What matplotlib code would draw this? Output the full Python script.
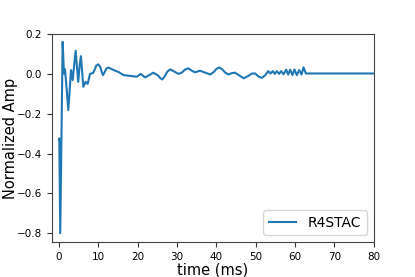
import numpy as np
import matplotlib
matplotlib.use('Agg')
import matplotlib.pyplot as plt

# values
time_ms = [0.0, 0.08, 0.33, 0.94, 1.27, 1.53, 1.9, 2.37, 2.7, 3.06, 3.49, 3.8, 4.25, 4.6,
           4.9, 5.3, 5.6, 6.2, 6.8, 7.3, 7.9, 8.7, 9.1, 9.5, 10.0, 10.5, 10.9, 11.2,
           11.7, 12.1, 12.6, 13.4, 14.3, 15.3, 16.4, 18.0, 19.8, 20.4, 20.8, 21.4,
           21.9, 23.0, 24.0, 25.2, 25.8, 26.3, 26.9, 27.6, 28.3, 29.3, 30.4, 31.2,
           32.1, 32.9, 33.8, 34.6, 35.9, 37.2, 38.5, 39.4, 40.1, 40.8, 41.5, 42.3,
           43.1, 44.0, 44.8, 46.0, 47.0, 48.0, 49.1, 49.9, 50.8, 51.6, 52.5,
           53.2, 53.8, 54.4, 54.9, 55.4, 56.0, 56.5, 57.1, 57.8, 58.3, 58.8, 59.4,
           59.9, 60.5, 61.1, 61.7, 62.2, 62.8, 70.0, 80.0, 85.0]
amp = [-0.33, -0.324, -0.80, 0.161, 0.002, 0.023, -0.06, -0.182, -0.09, 0.019, -0.031,
       0.03, 0.116, 0.03, -0.04, 0.05, 0.089, -0.065, -0.04, -0.05, 0.0, 0.005, 0.022,
       0.042, 0.048, 0.035, 0.008, -0.006, 0.012, 0.028, 0.032, 0.024, 0.016, 0.008,
       -0.006, -0.01, -0.014, -0.006, 0.0, -0.01, -0.018, -0.006, 0.006, -0.008,
       -0.022, -0.028, -0.012, 0.012, 0.023, 0.012, 0.0, 0.006, 0.022, 0.028, 0.016,
       0.008, 0.016, 0.006, -0.003, 0.01, 0.026, 0.032, 0.024, 0.006, -0.003, 0.004,
       0.006, -0.01, -0.022, -0.012, 0.002, 0.002, -0.014, -0.02, -0.006, 0.014, 0.002,
       0.014, 0.0, 0.014, 0.0, 0.014, -0.002, 0.021, -0.004, 0.021, -0.006, 0.022,
       -0.006, 0.019, -0.003, 0.033, 0.002, 0.002, 0.002, 0.002]

fig = plt.figure(figsize=(4.15, 2.77), dpi=100)
ax = fig.add_subplot(111)
fig.subplots_adjust(left=0.125, right=0.9, top=0.877, bottom=0.126)
ax.plot(time_ms, amp, color='#1f77b4', linewidth=1.5, label='R4STAC')
ax.set_xlim(-1.8, 80)
ax.set_ylim(-0.845, 0.2)
ax.set_xticks([0, 10, 20, 30, 40, 50, 60, 70, 80])
ax.set_yticks([-0.8, -0.6, -0.4, -0.2, 0.0, 0.2])
ax.tick_params(labelsize=7.5, color='#333333')
for s in ax.spines.values():
    s.set_color('#444444')
ax.legend(loc='lower right', fontsize=10)
plt.xlabel('time (ms)', fontsize=10.5, labelpad=0.5)
plt.ylabel('Normalized Amp', fontsize=10.5, labelpad=-0.5)
plt.savefig('out.png', dpi=100)
